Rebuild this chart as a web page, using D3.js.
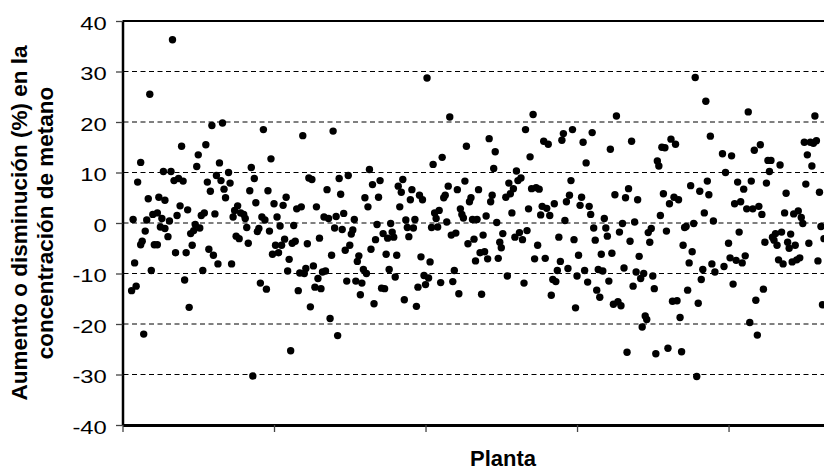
<!DOCTYPE html>
<html>
<head>
<meta charset="utf-8">
<script src="https://cdn.jsdelivr.net/npm/d3@7"></script>
<style>
  body { margin: 0; background: #fff; }
  svg { display: block; font-family: "Liberation Sans", Arial, sans-serif; }
</style>
</head>
<body>
<div class="container"></div>
<script>
// [planta, cambio %], grouped by hundreds of plants
const tramo0 = [[6,-13.4],[7,0.7],[8,-7.9],[9,-12.5],[10,8.1],[12,-4.3],[12,12.0],[13,-3.6],[14,-22.0],[15,-1.6],[16,0.6],[17,4.8],[18,25.5],[19,-9.4],[20,1.7],[21,-4.3],[23,-4.3],[23,2.0],[24,5.1],[25,-0.8],[26,0.9],[27,10.2],[28,4.5],[28,-1.1],[30,-2.7],[31,0.4],[32,10.2],[33,36.3],[34,8.4],[35,-5.9],[36,1.5],[37,8.8],[38,3.4],[39,15.2],[40,8.3],[41,-11.3],[42,-5.9],[43,2.6],[44,-16.7],[45,-2.1],[46,-4.4],[47,-1.5],[48,-0.3],[49,11.2],[50,13.5],[51,-1.0],[52,1.5],[53,-9.4],[54,2.0],[55,15.5],[56,8.1],[57,-5.2],[58,6.3],[59,19.3],[60,-6.4],[61,1.8],[62,9.4],[63,-8.1],[64,11.9],[65,8.4],[66,19.8],[67,6.7],[68,5.0],[70,10.0],[71,7.9],[72,-8.1],[73,1.2],[74,2.5],[75,-2.6],[76,3.4],[77,-3.1],[78,2.0],[80,1.7],[81,0.9],[82,-0.9],[83,-4.0],[84,6.4],[85,11.0],[86,-30.3],[87,8.8],[88,4.0],[89,-1.7],[90,-1.1],[91,-11.9],[92,1.2],[93,18.5],[94,0.6],[95,-13.1],[96,6.4],[97,-1.6],[98,12.7],[99,-6.2]];
const tramo1 = [[100,3.8],[101,-4.4],[102,1.2],[103,-5.9],[104,-0.6],[105,-4.4],[106,3.5],[107,-3.2],[108,5.1],[109,-9.5],[110,-7.2],[111,-25.3],[112,-4.0],[113,-0.5],[114,-3.6],[115,2.8],[116,-13.4],[117,-9.9],[118,3.2],[119,17.3],[120,-10.0],[121,-9.0],[122,-4.1],[123,8.9],[124,-16.6],[125,8.6],[126,-8.5],[127,-12.7],[128,3.2],[129,-11.0],[130,-3.0],[131,-13.0],[132,-9.7],[133,1.2],[134,-9.5],[135,6.6],[136,0.9],[137,-18.9],[138,-6.4],[139,18.2],[140,-1.0],[141,1.3],[142,-22.3],[143,8.8],[144,5.7],[145,-1.3],[146,1.9],[147,-5.4],[148,-11.5],[149,9.4],[150,-4.4],[151,-2.2],[152,-1.4],[153,0.7],[154,-11.5],[155,-7.6],[156,-6.5],[157,-14.2],[158,-11.9],[159,-9.2],[160,5.0],[161,-10.0],[162,3.2],[163,10.6],[164,-5.2],[165,7.6],[166,-16.0],[167,-3.3],[168,-0.3],[169,5.1],[170,8.4],[171,-12.9],[172,-2.1],[173,-13.0],[174,-6.2],[175,-3.0],[176,-9.2],[177,-0.1],[178,-1.8],[179,-2.8],[180,-10.7],[181,-6.4],[182,7.3],[183,3.2],[184,6.1],[185,8.6],[186,-15.2],[187,0.6],[188,-0.9],[189,-2.7],[190,4.6],[191,6.6],[192,-1.0],[193,0.7],[194,-16.5],[195,-12.7],[196,5.5],[197,-6.7],[198,4.6],[199,-10.4]];
const tramo2 = [[200,-12.2],[201,28.7],[202,-10.9],[203,-7.7],[204,-0.9],[205,11.6],[206,2.0],[207,0.9],[208,-0.8],[209,2.5],[210,-11.8],[211,13.0],[212,5.0],[213,5.5],[214,0.2],[215,7.3],[216,21.0],[217,-2.4],[218,-11.6],[219,-9.4],[220,-2.0],[221,6.6],[222,-14.0],[223,2.8],[224,1.7],[225,1.0],[226,8.3],[227,15.2],[228,-4.1],[229,4.2],[230,5.0],[231,0.7],[232,-3.2],[233,-7.5],[234,0.7],[235,6.6],[236,-5.9],[237,-14.1],[238,-2.4],[239,-5.7],[240,1.4],[241,-7.1],[242,16.7],[243,4.2],[244,5.5],[245,10.8],[246,14.1],[247,0.1],[248,-7.0],[249,-3.8],[250,-4.9],[251,-2.1],[253,5.1],[254,-10.5],[255,7.9],[256,5.8],[257,2.0],[258,6.8],[259,-2.8],[260,10.3],[261,8.4],[262,-1.9],[263,8.9],[264,-3.3],[265,-11.9],[266,18.5],[267,-1.5],[268,2.8],[269,13.1],[270,6.8],[271,21.5],[272,-7.1],[273,7.0],[274,-4.4],[275,6.7],[276,1.6],[277,3.3],[278,16.2],[279,-7.0],[280,2.9],[281,15.6],[282,1.5],[283,-14.3],[284,-11.2],[285,3.8],[286,-11.6],[287,-9.4],[288,-2.8],[289,-7.6],[290,16.4],[291,17.7],[292,0.5],[293,4.2],[294,-9.0],[295,5.5],[296,8.4],[297,18.5],[298,-3.3],[299,-16.8]];
const tramo3 = [[300,-10.5],[301,-6.4],[302,3.5],[303,5.1],[304,16.0],[305,-9.4],[306,11.9],[307,-11.7],[308,3.3],[309,1.7],[310,17.9],[311,-1.0],[312,-3.4],[313,-13.3],[314,-9.2],[315,-14.7],[316,-6.2],[317,-9.5],[318,0.9],[319,-1.0],[320,-2.6],[321,-11.5],[322,14.6],[323,-6.0],[324,-16.1],[325,5.6],[326,21.2],[327,-15.6],[328,-1.8],[329,-16.4],[330,-0.1],[331,-8.9],[332,5.0],[333,-25.6],[334,6.8],[335,-3.6],[336,16.2],[337,-12.5],[338,0.2],[339,-9.7],[340,4.6],[341,-6.6],[342,-11.0],[343,-20.6],[344,-10.0],[345,-18.4],[346,-19.1],[347,-1.9],[348,-3.8],[349,-1.1],[350,-10.5],[351,-13.0],[352,-25.9],[353,12.3],[354,11.3],[355,1.5],[356,15.0],[357,5.8],[358,14.9],[359,-1.6],[360,-24.8],[361,3.8],[362,16.6],[363,-15.5],[364,5.1],[365,15.6],[366,-15.4],[367,4.6],[368,-18.7],[369,-25.5],[370,-4.4],[371,-0.9],[372,-0.7],[373,-13.3],[374,-7.9],[375,7.4],[376,-5.7],[377,-0.1],[378,28.8],[379,-30.4],[380,-15.9],[381,6.3],[382,-11.2],[383,-9.2],[384,2.0],[385,24.1],[386,8.3],[387,5.6],[388,17.2],[389,-8.1],[390,0.4],[391,-9.7],[396,13.7],[397,-8.6],[398,10.0]];
const tramo4 = [[400,-4.0],[401,-6.9],[402,13.3],[403,-12.1],[404,3.8],[405,-7.4],[406,8.1],[407,-1.8],[408,4.2],[409,-7.9],[410,6.7],[411,-6.5],[412,2.8],[413,22.0],[414,-19.7],[415,8.3],[416,2.8],[417,14.4],[418,-15.3],[419,-22.2],[420,3.3],[421,15.5],[422,1.7],[423,-13.1],[424,-3.8],[425,7.9],[426,12.4],[427,10.2],[428,12.4],[429,-2.8],[430,-3.4],[431,-2.1],[432,-4.4],[433,-7.3],[434,11.5],[435,-1.8],[436,-8.1],[437,2.0],[438,5.9],[439,-3.8],[440,-5.0],[441,-2.2],[442,-7.7],[443,1.8],[444,-4.4],[445,-7.3],[446,2.4],[447,-6.9],[448,1.1],[449,-0.1],[450,16.0],[451,7.7],[452,13.5],[453,-4.0],[454,16.0],[455,11.3],[456,15.8],[457,21.2],[458,16.3],[459,-7.5],[460,6.1],[461,-0.7],[462,-16.2],[463,-3.1]];

const yTicks = [-40, -30, -20, -10, 0, 10, 20, 30, 40];
const yGrid = [-30, -20, -10, 0, 10, 20, 30];
const xTicks = [0, 100, 200, 300, 400];
const yTitle = ['Aumento o disminución (%) en la', 'concentración de metano'];
const xTitle = 'Planta';

const W = 824, H = 472;
const puntos = [].concat(tramo0, tramo1, tramo2, tramo3, tramo4);

const x = d3.scaleLinear().domain([0, 463]).range([122.5, 824]);
const y = d3.scaleLinear().domain([-40, 40]).range([425, 21]);

const svg = d3.select('.container').append('svg')
    .attr('width', W)
    .attr('height', H);

svg.append('rect').attr('width', W).attr('height', H).attr('fill', '#fff');

// dashed gridlines
svg.append('g')
    .selectAll('line')
    .data(yGrid)
    .enter().append('line')
        .attr('x1', x(0) + 1)
        .attr('x2', W)
        .attr('y1', d => y(d))
        .attr('y2', d => y(d))
        .attr('stroke', '#000')
        .attr('stroke-width', 1)
        .attr('stroke-dasharray', '5,3.5');

// points
svg.append('g')
    .selectAll('circle')
    .data(puntos)
    .enter().append('circle')
        .attr('cx', d => x(d[0]))
        .attr('cy', d => y(d[1]))
        .attr('r', 3.7)
        .attr('fill', '#000');

// frame: top border
svg.append('line')
    .attr('x1', x(0)).attr('x2', W)
    .attr('y1', y(40)).attr('y2', y(40))
    .attr('stroke', '#000').attr('stroke-width', 2.2);

// y axis (plain hyphen for negatives, like the original)
let yAxis = d3.axisLeft(y).tickValues(yTicks).tickSize(6.5).tickSizeOuter(0)
    .tickFormat(d => String(d));
let gy = svg.append('g')
    .attr('transform', 'translate(' + x(0) + ',0)')
    .call(yAxis);
gy.select('.domain').attr('stroke', '#000').attr('stroke-width', 2.5);
gy.selectAll('.tick line').attr('stroke', '#444').attr('stroke-width', 1.3);
gy.selectAll('.tick text')
    .attr('x', -12.6)
    .attr('dy', '0.43em')
    .attr('transform', 'scale(1.25,1)')
    .style('font-size', '19px')
    .style('font-family', '"Liberation Sans", Arial, sans-serif')
    .attr('fill', '#000');

// x axis
let xAxis = d3.axisBottom(x).tickValues(xTicks).tickSize(7).tickSizeOuter(0).tickFormat('');
let gx = svg.append('g')
    .attr('transform', 'translate(0,' + y(-40) + ')')
    .call(xAxis);
gx.select('.domain').attr('stroke', '#000').attr('stroke-width', 3);
gx.selectAll('.tick line').attr('stroke', '#444').attr('stroke-width', 1.3);

// titles
svg.append('text')
    .text(xTitle)
    .attr('x', 503)
    .attr('y', 466)
    .style('text-anchor', 'middle')
    .style('font-weight', 'bold')
    .style('font-size', '22px');

svg.append('g')
    .attr('transform', 'translate(0,' + ((y(40) + y(-40)) / 2) + ') rotate(-90)')
    .selectAll('text')
    .data(yTitle)
    .enter().append('text')
        .text(d => d)
        .attr('x', 0)
        .attr('y', (d, i) => 27.3 + i * 26)
        .style('text-anchor', 'middle')
        .style('font-weight', 'bold')
        .style('font-size', '22.5px');
</script>
</body>
</html>
